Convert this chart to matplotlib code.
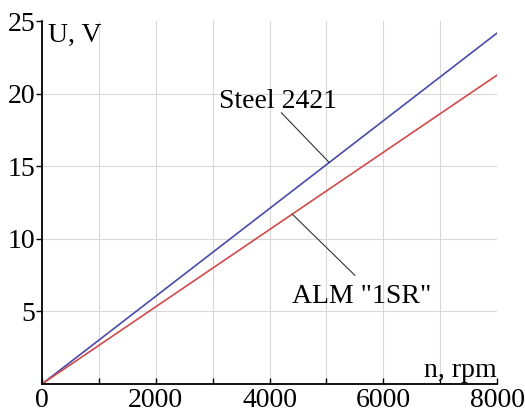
import numpy as np
import matplotlib
matplotlib.use("Agg")
import matplotlib.pyplot as plt

# speed, rpm and generated voltage, V
n_rpm = [0, 8000]
u_steel = [0, 24.2]
u_alm = [0, 21.3]

xticks = [0, 2000, 4000, 6000, 8000]
yticks = [5, 10, 15, 20, 25]

plt.rcParams['font.family'] = ['Liberation Serif', 'DejaVu Serif']
fs = 20

fig = plt.figure(figsize=(5.25, 4.15), dpi=100)
ax = fig.add_axes([0.08, 0.0747, 0.8667, 0.8735])

ax.plot(n_rpm, u_steel, color='#4a4aa8', lw=1.2)
ax.plot(n_rpm, u_alm, color='#d04a4a', lw=1.2)

ax.set_xlim(0, 8000)
ax.set_ylim(0, 25)
ax.set_xticks(xticks)
ax.set_xticks(np.arange(1000, 8000, 2000), minor=True)
ax.set_yticks(yticks)
ax.tick_params(axis='x', which='both', direction='in', length=4, width=1,
               labelsize=fs, pad=3)
ax.tick_params(axis='y', direction='out', length=4, width=1,
               labelsize=fs, pad=1)

# grid
for xv in range(1000, 8000, 1000):
    ax.axvline(xv, color='#d8d8d8', lw=0.8, zorder=0)
for yv in [5, 10, 15, 20]:
    ax.axhline(yv, color='#d8d8d8', lw=0.8, zorder=0)

for s in ['top', 'right']:
    ax.spines[s].set_visible(False)
ax.spines['left'].set_linewidth(1.3)
ax.spines['bottom'].set_linewidth(1.3)

# axis titles inside the plot
ax.text(110, 23.6, 'U, V', fontsize=fs, ha='left', va='baseline')
ax.text(8000, 0.5, 'n, rpm', fontsize=fs, ha='right', va='baseline')

# leaders and labels
k_steel = u_steel[1] / n_rpm[1]
k_alm = u_alm[1] / n_rpm[1]
ax.text(3120, 19.05, 'Steel 2421', fontsize=fs, ha='left', va='baseline')
ax.plot([4210, 5050], [18.7, k_steel * 5050], color='#333333', lw=0.8)
ax.text(4390, 5.6, 'ALM "1SR"', fontsize=fs, ha='left', va='baseline')
ax.plot([4400, 5500], [k_alm * 4400, 7.5], color='#333333', lw=0.8)

fig.savefig("out.png", dpi=100)
